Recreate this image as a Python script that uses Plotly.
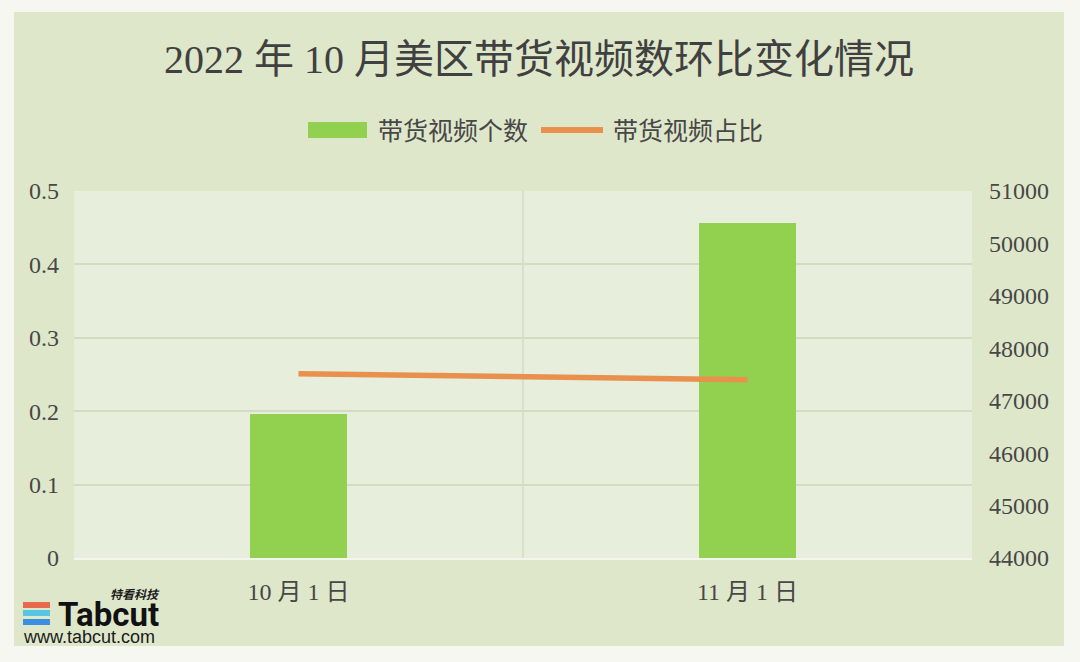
import plotly.graph_objects as go

# ---- data ----
categories = ["10 月 1 日", "11 月 1 日"]
video_counts = [46750, 50390]        # 带货视频个数 (right axis)
video_share = [0.251, 0.243]         # 带货视频占比 (left axis)
left_ticks = [0, 0.1, 0.2, 0.3, 0.4, 0.5]
left_ticktext = ["0", "0.1", "0.2", "0.3", "0.4", "0.5"]
right_ticks = [44000, 45000, 46000, 47000, 48000, 49000, 50000, 51000]

# ---- geometry ----
W, H = 1080, 662
L, R, T, B = 74, 972, 191, 558
PW, PH = R - L, B - T


def px(x):
    return (x - L) / PW


def py(y):
    return (B - y) / PH


TXT = "#474747"
SERIF = "Liberation Serif, Noto Sans CJK SC, serif"
GREEN = "#92d050"
ORANGE = "#e8904c"
GRID = "#d3dbc3"

fig = go.Figure()

fig.add_trace(go.Bar(
    x=categories, y=video_counts, name="带货视频个数",
    marker=dict(color=GREEN, line=dict(width=0)),
    width=0.215, yaxis="y", showlegend=False,
))
fig.add_trace(go.Scatter(
    x=categories, y=video_share, name="带货视频占比",
    mode="lines", line=dict(color=ORANGE, width=5.5),
    yaxis="y2", showlegend=False,
))

shapes = [
    # outer green panel
    dict(type="rect", xref="paper", yref="paper", layer="below",
         x0=px(14), x1=px(1064), y0=py(646), y1=py(12),
         fillcolor="#dfe7cb", line=dict(width=0)),
    # plot area background
    dict(type="rect", xref="paper", yref="paper", layer="below",
         x0=0, x1=1, y0=0, y1=1,
         fillcolor="#e7eedb", line=dict(width=0)),
    # category separator
    dict(type="line", xref="x", yref="paper", layer="below",
         x0=0.5, x1=0.5, y0=0, y1=1, line=dict(color=GRID, width=1.5)),
    # legend symbols
    dict(type="rect", xref="paper", yref="paper",
         x0=px(308), x1=px(367), y0=py(138), y1=py(122),
         fillcolor=GREEN, line=dict(width=0)),
    dict(type="line", xref="paper", yref="paper",
         x0=px(541), x1=px(603), y0=py(130), y1=py(130),
         line=dict(color=ORANGE, width=6)),
    # logo icon
    dict(type="rect", xref="paper", yref="paper",
         x0=px(23), x1=px(50), y0=py(608), y1=py(602),
         fillcolor="#e8694c", line=dict(width=0)),
    dict(type="rect", xref="paper", yref="paper",
         x0=px(23), x1=px(50), y0=py(616), y1=py(610),
         fillcolor="#58c6e2", line=dict(width=0)),
    dict(type="rect", xref="paper", yref="paper",
         x0=px(23), x1=px(50), y0=py(625), y1=py(619),
         fillcolor="#3a8fe3", line=dict(width=0)),
]

annotations = [
    dict(text="2022 年 10 月美区带货视频数环比变化情况", xref="paper", yref="paper",
         x=px(539), y=py(60), xanchor="center", yanchor="middle", showarrow=False,
         font=dict(family=SERIF, size=40, color="#404040")),
    dict(text="带货视频个数", xref="paper", yref="paper",
         x=px(376), y=py(131), xanchor="left", yanchor="middle", showarrow=False,
         font=dict(family=SERIF, size=25, color=TXT)),
    dict(text="带货视频占比", xref="paper", yref="paper",
         x=px(611), y=py(131), xanchor="left", yanchor="middle", showarrow=False,
         font=dict(family=SERIF, size=25, color=TXT)),
    # watermark
    dict(text="<b><i>特看科技</i></b>", xref="paper", yref="paper",
         x=px(162), y=py(593), xanchor="right", yanchor="middle", showarrow=False,
         font=dict(family="Noto Sans CJK SC", size=12, color="#1a1a1a")),
    dict(text="<b>Tabcut</b>", xref="paper", yref="paper",
         x=px(56), y=py(614), xanchor="left", yanchor="middle", showarrow=False,
         font=dict(family="Roboto, Liberation Sans, sans-serif", size=33, color="#111111")),
    dict(text="www.tabcut.com", xref="paper", yref="paper",
         x=px(21), y=py(637), xanchor="left", yanchor="middle", showarrow=False,
         font=dict(family="Liberation Sans, sans-serif", size=18, color="#1a1a1a")),
]

fig.update_layout(
    width=W, height=H,
    margin=dict(l=L, r=W - R, t=T, b=H - B, pad=0),
    paper_bgcolor="#f7f7f1",
    plot_bgcolor="rgba(0,0,0,0)",
    showlegend=False,
    shapes=shapes,
    annotations=annotations,
    bargap=0,
    xaxis=dict(
        type="category", range=[-0.5, 1.5],
        showgrid=False, zeroline=False,
        showline=True, linecolor="#f3f6ec", linewidth=2,
        ticks="", ticklabelstandoff=11,
        tickfont=dict(family=SERIF, size=24, color=TXT),
    ),
    yaxis=dict(
        side="right", range=[44000, 51000],
        tickvals=right_ticks, ticktext=[str(v) for v in right_ticks],
        showgrid=False, zeroline=False, showline=False,
        ticks="", ticklabelstandoff=16,
        tickfont=dict(family=SERIF, size=24, color=TXT),
    ),
    yaxis2=dict(
        overlaying="y", side="left", range=[0, 0.5],
        tickvals=left_ticks, ticktext=left_ticktext,
        showgrid=True, gridcolor=GRID, gridwidth=1.5,
        zeroline=False, showline=False,
        ticks="", ticklabelstandoff=14,
        tickfont=dict(family=SERIF, size=24, color=TXT),
    ),
)

fig.write_html(
    "out.html",
    config={"displayModeBar": False},
    post_script="document.body.style.margin='0';document.body.style.padding='0';",
)
